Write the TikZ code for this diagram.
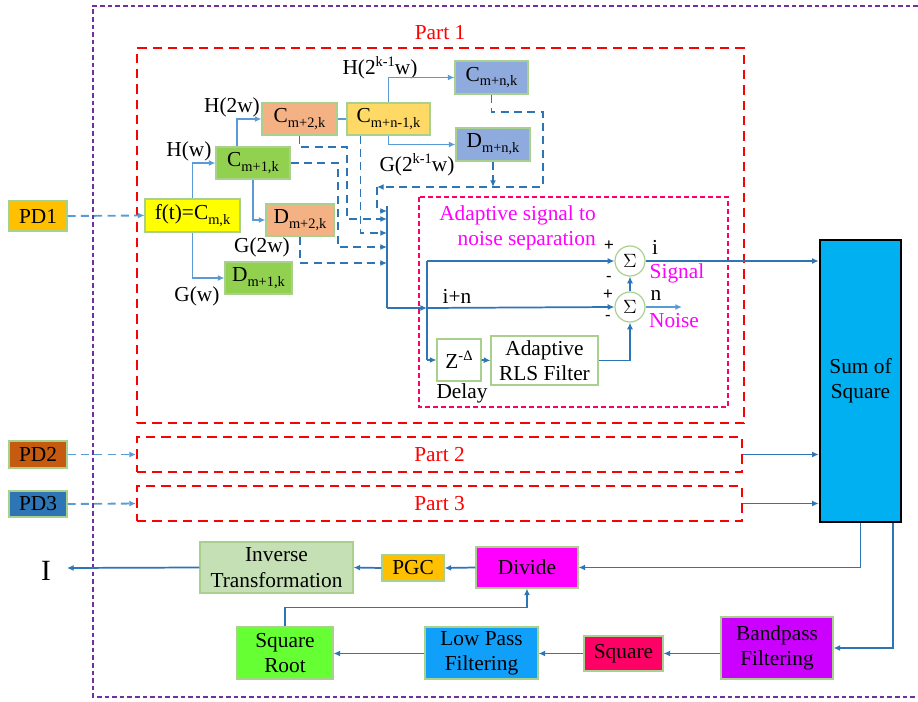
\documentclass[tikz,border=0pt]{standalone}
\usepackage{fontspec}
\setmainfont{Liberation Serif}
\newfontfamily\signfont{Liberation Sans}
\usetikzlibrary{arrows.meta,calc}
\definecolor{lblue}{HTML}{5B9BD5}
\definecolor{dblue}{HTML}{2E75B6}
\definecolor{boxgreen}{HTML}{A9D18E}
\definecolor{partred}{HTML}{FF0000}
\definecolor{purp}{HTML}{7030A0}
\definecolor{pinkd}{HTML}{FF0066}
\definecolor{mag}{HTML}{FF00FF}
\definecolor{sumblue}{HTML}{00B0F0}
\newcommand\mysub[1]{\raisebox{-0.5ex}{\fontsize{10.8}{11}\selectfont #1}}
\newcommand\mysup[1]{\raisebox{0.85ex}{\fontsize{10.8}{11}\selectfont #1}}
\newcommand\bx[7]{%
  \definecolor{fc#1}{HTML}{#6}%
  \node[box, fill=fc#1, minimum width={(#4-#2)*0.75pt}, minimum height={(#5-#3)*0.75pt}] (#1) at ({(#2+#4)/2},{(#3+#5)/2}) {#7};}
\tikzset{
  txt/.style={font=\fontsize{16}{19}\selectfont, inner sep=0pt, align=center},
  box/.style={txt, draw=boxgreen, line width=0.8pt},
  tip/.style={-{Latex[length=5pt,width=4.5pt]}},
  tconn/.style={draw=lblue, line width=1.3pt, tip},
  sconn/.style={draw=dblue, line width=1.3pt, tip},
  dconn/.style={draw=dblue, line width=1.4pt, dash pattern=on 6pt off 4pt, tip},
  pdconn/.style={draw=lblue, line width=1.4pt, dash pattern=on 6pt off 4pt, tip},
  partbox/.style={draw=partred, line width=1.6pt, dash pattern=on 7pt off 4.5pt, inner sep=0pt, text=partred, font=\fontsize{16}{19}\selectfont},
  sig/.style={font=\fontsize{12.5}{12.5}\signfont, inner sep=0pt},
  sumc/.style={circle, draw=boxgreen, line width=0.9pt, fill=white, minimum size=30*0.75pt, inner sep=0pt, font=\fontsize{14}{14}\selectfont},
}
\begin{document}
\begin{tikzpicture}[x=0.75pt,y=-0.75pt]
\useasboundingbox (0,0) rectangle (918,702);
\fill[white] (0,0) rectangle (918,702);
% outer purple border
\draw[purp, line width=1.5pt, dash pattern=on 3.5pt off 2.2pt] (918,6) -- (93,6) -- (93,697) -- (918,697);
% part boxes
\node[partbox, minimum width=607*0.75pt, minimum height=375*0.75pt] (P1) at (440.5,235.5) {};
\node[txt, text=partred] (P1lab) at (440,33) {Part 1};
\node[partbox, minimum width=605*0.75pt, minimum height=35*0.75pt] (P2) at (439.5,454.5) {Part 2};
\node[partbox, minimum width=605*0.75pt, minimum height=35*0.75pt] (P3) at (439.5,503.5) {Part 3};
% adaptive box
\draw[pinkd, line width=1.5pt, dash pattern=on 4pt off 2pt] (419,197) rectangle (728,407);
\node[txt, text=mag, anchor=north east, align=right, font=\fontsize{16}{19}\selectfont] (adlab) at (596,205) {Adaptive signal to\\noise separation};
% PD boxes
\bx{PD1}{9}{201}{67}{231}{FFC000}{PD1}
\bx{PD2}{9}{441}{67}{468}{C55A11}{PD2}
\bx{PD3}{9}{491}{67}{517}{2E75B6}{PD3}
% tree boxes
\bx{ft}{145}{199}{240}{232}{FFFF00}{f(t)=C\mysub{m,k}}
\bx{C1}{216}{147}{290}{179}{92D050}{C\mysub{m+1,k}}
\bx{D1}{225}{262}{292}{294}{92D050}{D\mysub{m+1,k}}
\bx{C2}{262}{103}{337}{135}{F4B183}{C\mysub{m+2,k}}
\bx{D2}{266}{204}{334}{236}{F4B183}{D\mysub{m+2,k}}
\bx{Cn1}{347}{103}{430}{135}{FFD966}{C\mysub{m+n-1,k}}
\bx{Cn}{455}{61}{528}{94}{8FAADC}{C\mysub{m+n,k}}
\bx{Dn}{456}{128}{530}{161}{8FAADC}{D\mysub{m+n,k}}
% tree labels
\node[txt] (lHw) at (189,151) {H(w)};
\node[txt] (lGw) at (197,296) {G(w)};
\node[txt] (lH2w) at (232,107) {H(2w)};
\node[txt] (lG2w) at (262,247) {G(2w)};
\node[txt] (lHk) at (380,68) {H(2\mysup{k-1}w)};
\node[txt] (lGk) at (417,165) {G(2\mysup{k-1}w)};
% PD connectors
\draw[pdconn] (PD1.east) -- (ft.west);
\draw[pdconn] (PD2.east) -- (P2.west);
\draw[pdconn] (PD3.east) -- (P3.west);
% tree connectors
\draw[tconn] (ft.north) |- (C1.west);
\draw[tconn] (ft.south) |- (D1.west);
\draw[tconn] ([xshift=-12pt]C1.north) |- (C2.west);
\draw[tconn] (C1.south) |- (D2.west);
\draw[draw=lblue, line width=1.3pt] (C2.east) -- (Cn1.west);
\draw[tconn] (Cn1.north) |- (Cn.west);
\draw[tconn] (Cn1.south) |- (Dn.west);
% bus
\coordinate (bus1) at (387,211);
\coordinate (bus2) at (387,219);
\coordinate (bus3) at (387,233);
\coordinate (bus4) at (387,247);
\coordinate (bus5) at (387,263);
\coordinate (busT) at (387,206);
\coordinate (busB) at (387,308);
\coordinate (loopL) at (377,187);
\draw[dconn] (C2.south) |- (347,147) |- (bus2);
\draw[dconn] (C1.east) -| (338,200) |- (bus4);
\draw[dconn] ([xshift=10.5pt]Cn1.south west) |- (bus3);
\draw[dconn] (D2.south) |- (bus5);
\draw[dconn] (Cn.south) |- (543,112) |- (loopL);
\draw[dconn] (loopL) |- (bus1);
\draw[dconn] (Dn.south) -- (Dn.south |- loopL);
\draw[draw=dblue, line width=1.3pt] (busT) -- (busB);
% adaptive section
\coordinate (J) at (427,308);
\node[sumc] (S1) at (630,261) {$\Sigma$};
\node[sumc] (S2) at (630,307) {$\Sigma$};
\bx{Z}{437}{339}{481}{381}{FFFFFF}{Z\mysup{-Δ}}
\bx{RLS}{491}{336}{598}{385}{FFFFFF}{Adaptive\\RLS Filter}
\draw[sconn] (busB) -- (J);
\draw[sconn] (J) -- (S2.west);
\draw[draw=dblue, line width=1.3pt] (J |- S1.west) -- (J |- Z.west);
\draw[sconn] (J |- S1.west) -- (S1.west);
\draw[sconn] (J |- Z.west) -- (Z.west);
\draw[sconn] (Z.east) -- (RLS.west);
\draw[sconn] (RLS.east) -| (S2.south);
\draw[sconn] (S2.north) -- (S1.south);
\coordinate (nout) at (682,307);
\draw[tconn] (S2.east) -- (nout);
\node[txt] (ldelay) at (462,393) {Delay};
\node[txt] (lin) at (457,296) {i+n};
\node[txt] (li) at (655,247) {i};
\node[txt] (ln) at (656,295) {n};
\node[txt, text=mag] (lsig) at (677,273) {Signal};
\node[txt, text=mag] (lnoise) at (674,321) {Noise};
\node[sig] (p1) at (609,246) {+};
\node[sig] (m1) at (609,279) {-};
\node[sig] (p2) at (608,295) {+};
\node[sig] (m2) at (608,318) {-};
% sum of square
\node[txt, draw=black, line width=2pt, fill=sumblue, minimum width=81*0.75pt, minimum height=282*0.75pt] (sum) at (860.5,381) {Sum of\\Square};
\draw[sconn] (S1.east) -- (S1.east -| sum.west);
\draw[sconn] (P2.east) -- (P2.east -| sum.west);
\draw[sconn] (P3.east) -- (P3.east -| sum.west);
% bottom chain
\bx{div}{476}{547}{578}{588}{FF00FF}{Divide}
\bx{pgc}{382}{555}{444}{581}{FFC000}{PGC}
\bx{inv}{200}{542}{353}{593}{C5E0B4}{Inverse\\Transformation}
\bx{sr}{237}{627}{333}{679}{66FF33}{Square\\Root}
\bx{lp}{425}{627}{538}{679}{10A0FA}{Low Pass\\Filtering}
\bx{sq}{584}{636}{663}{671}{FF0066}{Square}
\bx{bp}{721}{617}{833}{679}{CC00FF}{Bandpass\\Filtering}
\node[txt, font=\fontsize{22}{22}\selectfont] (I) at (46,571) {I};
\coordinate (Iend) at (67,568);
\draw[sconn] (sum.south) |- (div.east);
\draw[sconn] ([xshift=-6.75pt]sum.south east) |- (bp.east);
\draw[sconn] (div.west) -- (pgc.east);
\draw[sconn] (pgc.west) -- (inv.east);
\draw[sconn] (inv.west) -- (Iend);
\draw[sconn] (bp.west |- sq.east) -- (sq.east);
\draw[sconn] (sq.west) -- (sq.west -| lp.east);
\draw[sconn] (lp.west |- sq.west) -- (lp.west |- sq.west -| sr.east);
\draw[sconn] (sr.north) -- ++(0,-19) -| (div.south);
\end{tikzpicture}
\end{document}
